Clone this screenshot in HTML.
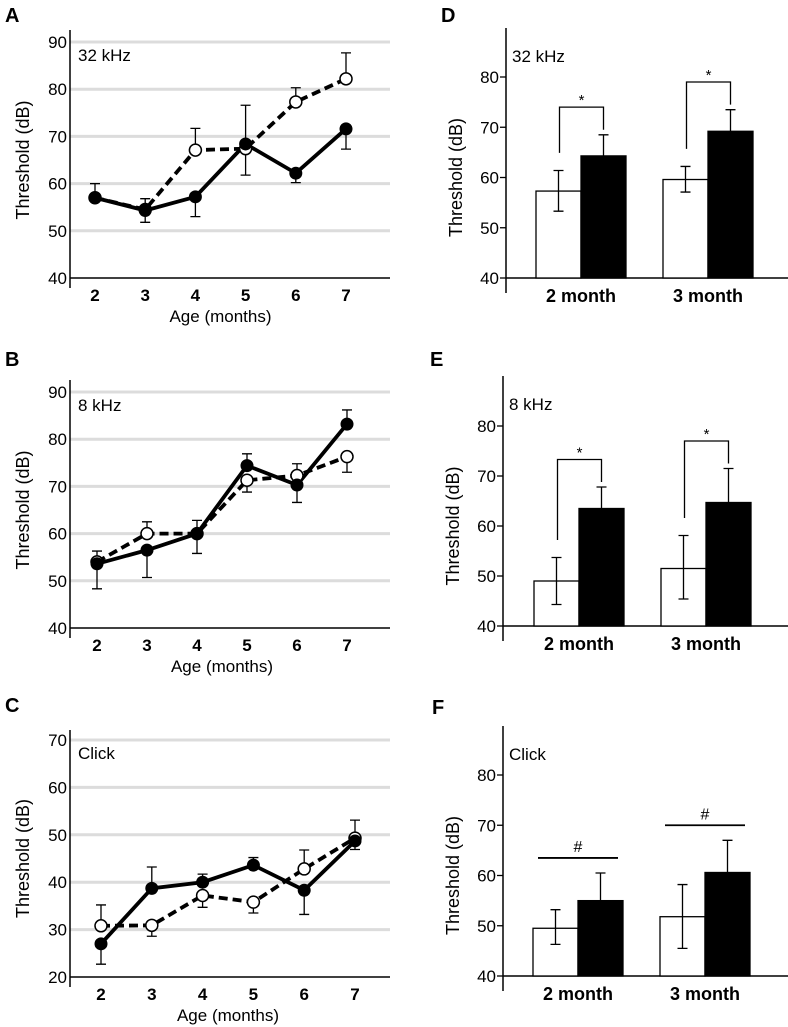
<!DOCTYPE html>
<html><head><meta charset="utf-8"><style>
body{margin:0;background:#fff;}
svg{display:block;font-family:"Liberation Sans",Arial,sans-serif;}
</style></head><body>
<svg id="fig" width="788" height="1027" viewBox="0 0 788 1027"></svg>
<script>
// ---------- Data ----------
const ageCats = [2,3,4,5,6,7];
const groupCats = ["2 month","3 month"];
const yTicksLine = [[40,50,60,70,80,90],[40,50,60,70,80,90],[20,30,40,50,60,70]];
const yTicksBar = [40,50,60,70,80];

const aFilled = [57,54.3,57.2,68.4,62.2,71.6];
const aFilledHi = [null,null,null,null,null,null];
const aFilledLo = [null,51.8,53,61.8,60.2,67.3];
const aOpen = [57,54.5,67.1,67.4,77.3,82.2];
const aOpenHi = [60,56.8,71.7,76.6,80.3,87.7];
const aOpenLo = [null,null,null,null,null,null];

const bFilled = [53.6,56.5,60,74.4,70.3,83.2];
const bFilledHi = [null,null,null,76.9,null,86.2];
const bFilledLo = [48.3,50.7,55.8,null,66.6,null];
const bOpen = [54,60,60,71.3,72.3,76.3];
const bOpenHi = [56.3,62.5,62.8,null,74.8,null];
const bOpenLo = [null,null,null,68.8,null,73];

const cFilled = [27,38.7,40,43.6,38.3,48.7];
const cFilledHi = [null,43.2,41.7,45.2,null,null];
const cFilledLo = [22.7,null,null,null,33.2,46.9];
const cOpen = [30.8,30.9,37.2,35.8,42.8,49.3];
const cOpenHi = [35.2,null,null,null,46.8,53.1];
const cOpenLo = [null,28.6,34.7,33.5,null,null];

const dWhite = [57.3,59.6]; const dWhiteHi=[61.4,62.2]; const dWhiteLo=[53.3,57.1];
const dBlack = [64.3,69.2]; const dBlackHi=[68.5,73.5];
const eWhite = [49,51.5]; const eWhiteHi=[53.7,58.1]; const eWhiteLo=[44.3,45.4];
const eBlack = [63.5,64.7]; const eBlackHi=[67.8,71.5];
const fWhite = [49.5,51.8]; const fWhiteHi=[53.2,58.2]; const fWhiteLo=[46.3,45.5];
const fBlack = [55,60.6]; const fBlackHi=[60.5,67];
const dSig = ["*","*"]; const eSig=["*","*"]; const fSig=["#","#"];

// ---------- helpers ----------
const NS="http://www.w3.org/2000/svg";
const svg=document.getElementById('fig');
function mk(tag,attrs,parent){const e=document.createElementNS(NS,tag);for(const k in attrs)e.setAttribute(k,attrs[k]);(parent||svg).appendChild(e);return e;}
function txt(s,attrs,parent){const e=mk('text',attrs,parent);e.textContent=s;return e;}

function linePanel(o){
  const g=mk('g',{});
  
  
  const y=v=>o.y0+(v-o.vmin)*(o.y1-o.y0)/(o.vmax-o.vmin);
  const x=i=>o.x0+i*(o.x1-o.x0)/(ageCats.length-1);
  const L=txt(o.label,{x:o.lx,y:o.ly,'font-size':20,'font-weight':'bold'},g);
  
  o.ticks.forEach((t,i)=>{
    if(i>0){const gl=mk('line',{x1:o.ax,x2:390,y1:y(t),y2:y(t),stroke:'#dcdcdc','stroke-width':3},g);
      }
    const tl=txt(t,{x:o.ax-3,y:y(t)+6,'font-size':17,'text-anchor':'end'},g);
    
  });
  mk('line',{x1:o.ax,x2:o.ax,y1:o.top,y2:y(o.vmin)+10,stroke:'#000','stroke-width':1.5},g);
  mk('line',{x1:o.ax,x2:390,y1:y(o.vmin),y2:y(o.vmin),stroke:'#000','stroke-width':1.5},g);
  ageCats.forEach((c,i)=>{const t=txt(c,{x:x(i),y:y(o.vmin)+23,'font-size':17,'font-weight':'bold','text-anchor':'middle'},g);
    });
  const xt=txt('Age (months)',{x:(o.x0+o.x1)/2,y:y(o.vmin)+44,'font-size':17,'text-anchor':'middle'},g);
  
  const my=(o.y0+y(o.ticks[o.ticks.length-1]))/2;
  const yt=txt('Threshold (dB)',{x:0,y:0,'font-size':18,'text-anchor':'middle',transform:`translate(29,${my}) rotate(-90)`},g);
  
  const st=txt(o.stim,{x:o.ax+8,y:y(o.ticks[o.ticks.length-1])+19,'font-size':17},g);
  
  function err(vals,hi,lo,nm){vals.forEach((v,i)=>{[hi[i],lo[i]].forEach(e=>{if(e==null)return;
    const l=mk('path',{d:`M${x(i)},${y(v)}V${y(e)}M${x(i)-5},${y(e)}H${x(i)+5}`,stroke:'#000','stroke-width':1.3,fill:'none'},g);
    });});}
  err(o.open,o.openHi,o.openLo,'open');
  err(o.filled,o.filledHi,o.filledLo,'filled');
  const op=mk('path',{d:o.open.map((v,i)=>(i?'L':'M')+x(i)+','+y(v)).join(''),stroke:'#000','stroke-width':3.8,fill:'none','stroke-dasharray':'9,5'},g);
  
  const fp=mk('path',{d:o.filled.map((v,i)=>(i?'L':'M')+x(i)+','+y(v)).join(''),stroke:'#000','stroke-width':3.8,fill:'none'},g);
  
  o.open.forEach((v,i)=>{const c=mk('circle',{cx:x(i),cy:y(v),r:6,fill:'#fff',stroke:'#000','stroke-width':1.5},g);
    });
  o.filled.forEach((v,i)=>{const c=mk('circle',{cx:x(i),cy:y(v),r:6.5,fill:'#000'},g);
    });
}

function barPanel(o){
  const g=mk('g',{});
  
  
  const y=v=>o.y0+(v-40)*(o.y80-o.y0)/40;
  const L=txt(o.label,{x:o.lx,y:o.ly,'font-size':20,'font-weight':'bold'},g);
  
  mk('line',{x1:o.ax,x2:o.ax,y1:o.top,y2:o.y0+15,stroke:'#000','stroke-width':1.5},g);
  mk('line',{x1:o.ax,x2:788,y1:o.y0,y2:o.y0,stroke:'#000','stroke-width':1.5},g);
  yTicksBar.forEach(t=>{mk('line',{x1:o.ax-6,x2:o.ax,y1:y(t),y2:y(t),stroke:'#000','stroke-width':1.3},g);
    const tl=txt(t,{x:o.ax-7,y:y(t)+6,'font-size':17,'text-anchor':'end'},g);
    });
  const yt=txt('Threshold\u00a0(dB)',{x:0,y:0,'font-size':18,'text-anchor':'middle',transform:`translate(${o.ax-44},${(y(40)+y(80))/2}) rotate(-90)`},g);
  
  const st=txt(o.stim,{x:o.ax+6,y:o.top+34,'font-size':17},g);
  
  const bw=45;
  groupCats.forEach((c,i)=>{
    const cx=o.cx[i];
    const wv=o.white[i], bv=o.black[i];
    const wx=cx-bw, bx=cx;
    const wb=mk('rect',{x:wx,y:y(wv),width:bw,height:o.y0-y(wv),fill:'#fff',stroke:'#000','stroke-width':1.3},g);
    
    const bb=mk('rect',{x:bx,y:y(bv),width:bw,height:o.y0-y(bv),fill:'#000',stroke:'#000','stroke-width':1.3},g);
    
    const wm=wx+bw/2, bm=bx+bw/2;
    const we=mk('path',{d:`M${wm},${y(o.whiteLo[i])}V${y(o.whiteHi[i])}M${wm-5},${y(o.whiteLo[i])}H${wm+5}M${wm-5},${y(o.whiteHi[i])}H${wm+5}`,stroke:'#000','stroke-width':1.3,fill:'none'},g);
    
    const be=mk('path',{d:`M${bm},${y(bv)}V${y(o.blackHi[i])}M${bm-5},${y(o.blackHi[i])}H${bm+5}`,stroke:'#000','stroke-width':1.3,fill:'none'},g);
    
    const lt=txt(c,{x:cx,y:o.y0+24,'font-size':18,'font-weight':'bold','text-anchor':'middle'},g);
    
    const s=o.sig[i];
    if(s==='*'){
      const top=Math.max(o.whiteHi[i],o.blackHi[i])+5.5;
      const lx=wm+1, rx=bm;
      const br=mk('path',{d:`M${lx},${y(o.whiteHi[i]+3.5)}V${y(top)}H${rx}V${y(o.blackHi[i]+1)}`,stroke:'#000','stroke-width':1.3,fill:'none'},g);
      
      const sx=txt('*',{x:(lx+rx)/2,y:y(top)-2,'font-size':15,'text-anchor':'middle'},g);
      
    } else {
      const top=Math.max(o.whiteHi[i],o.blackHi[i])+3;
      const ln=mk('line',{x1:wx+5,x2:bx+bw-5,y1:y(top),y2:y(top),stroke:'#000','stroke-width':1.8},g);
      
      const sx=txt('#',{x:cx,y:y(top)-6,'font-size':16,'text-anchor':'middle'},g);
      
    }
  });
}

linePanel({name:'panel-a-32khz',label:'A',lx:5,ly:22,stim:'32 kHz',ax:70,top:30,vmin:40,vmax:90,y0:278,y1:42,x0:95,x1:346,ticks:yTicksLine[0],
  filled:aFilled,filledHi:aFilledHi,filledLo:aFilledLo,open:aOpen,openHi:aOpenHi,openLo:aOpenLo});
linePanel({name:'panel-b-8khz',label:'B',lx:5,ly:366,stim:'8 kHz',ax:70,top:380,vmin:40,vmax:90,y0:628,y1:392,x0:97,x1:347,ticks:yTicksLine[1],
  filled:bFilled,filledHi:bFilledHi,filledLo:bFilledLo,open:bOpen,openHi:bOpenHi,openLo:bOpenLo});
linePanel({name:'panel-c-click',label:'C',lx:5,ly:712,stim:'Click',ax:70,top:730,vmin:20,vmax:70,y0:977,y1:740,x0:101,x1:355,ticks:yTicksLine[2],
  filled:cFilled,filledHi:cFilledHi,filledLo:cFilledLo,open:cOpen,openHi:cOpenHi,openLo:cOpenLo});

barPanel({name:'panel-d-32khz',label:'D',lx:441,ly:22,stim:'32 kHz',ax:506,top:28,y0:278,y80:77,cx:[581,708],
  white:dWhite,whiteHi:dWhiteHi,whiteLo:dWhiteLo,black:dBlack,blackHi:dBlackHi,sig:dSig});
barPanel({name:'panel-e-8khz',label:'E',lx:430,ly:366,stim:'8 kHz',ax:503,top:376,y0:626,y80:426,cx:[579,706],
  white:eWhite,whiteHi:eWhiteHi,whiteLo:eWhiteLo,black:eBlack,blackHi:eBlackHi,sig:eSig});
barPanel({name:'panel-f-click',label:'F',lx:432,ly:714,stim:'Click',ax:503,top:726,y0:976,y80:775,cx:[578,705],
  white:fWhite,whiteHi:fWhiteHi,whiteLo:fWhiteLo,black:fBlack,blackHi:fBlackHi,sig:fSig});
</script>
</body></html>
